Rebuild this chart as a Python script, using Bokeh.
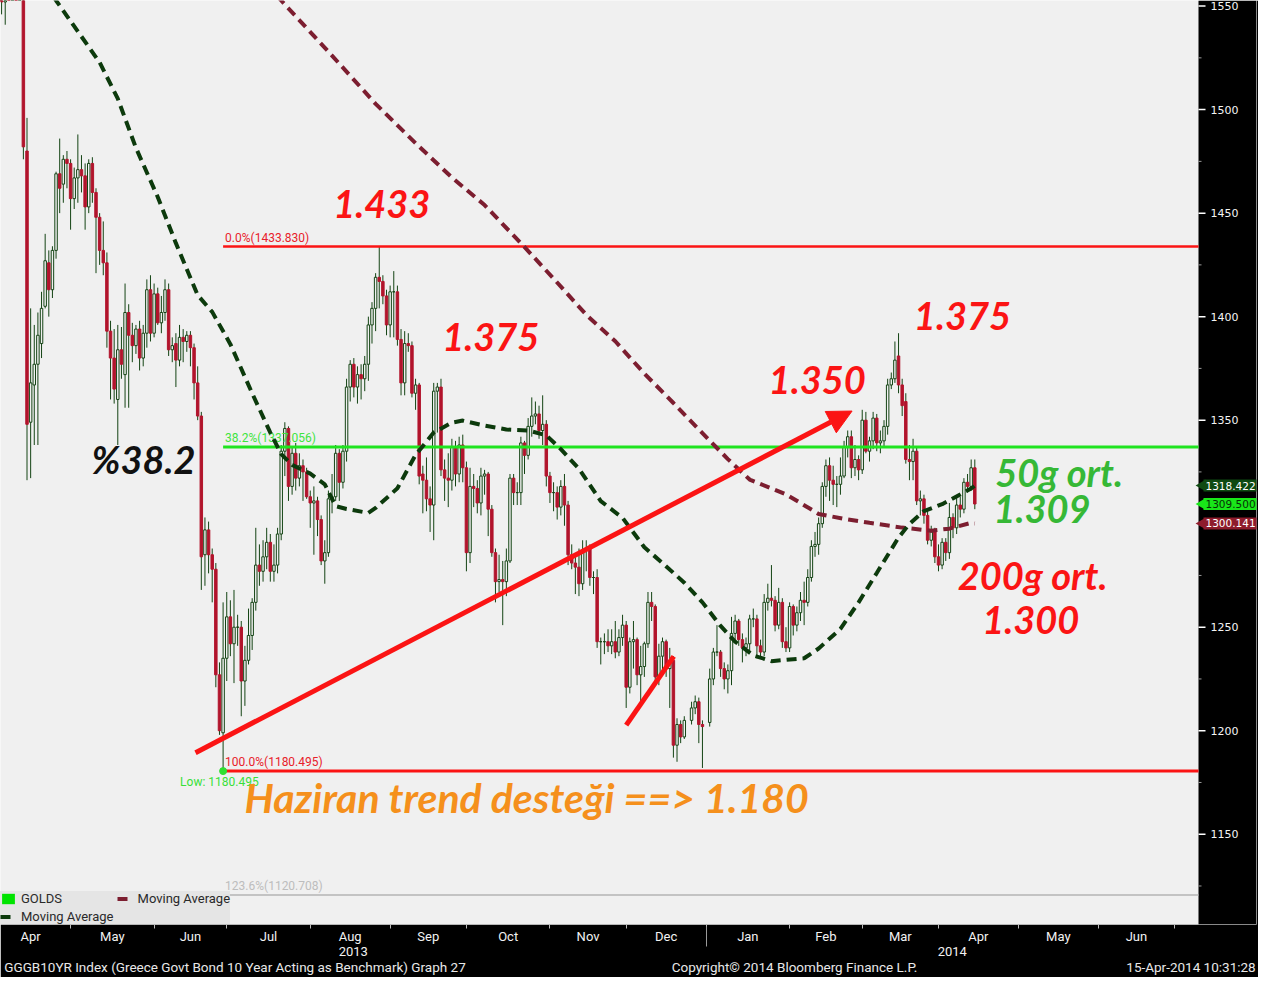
import numpy as np
import pandas as pd
from bokeh.plotting import figure
from bokeh.models import (ColumnDataSource, LinearAxis, FixedTicker, Range1d, Label, BoxAnnotation,
                          Legend, LegendItem, Arrow, NormalHead)
from bokeh.core.properties import value
from bokeh.embed import file_html
from bokeh.resources import INLINE

# ---------------- data (GOLDS daily OHLC) ----------------
START, END = "2013-04-01", "2014-04-15"
HOLIDAYS = ["2013-12-25", "2014-01-01"]

opens = [
    1596,1598,1576,1553,1552,1581,1574,1585,1558,1564,1480,1349,1367,1377,1387,1405,1426,1413,1432,1469,1464,1476,
    1474,1457,1467,1471,1468,1453,1474,1460,1448,1432,1426,1393,1380,1360,1384,1372,1402,1391,1386,1394,1380,1392,1413,
    1392,1411,1397,1402,1413,1384,1387,1379,1390,1388,1391,1385,1368,1352,1285,1297,1285,1278,1227,1199,
    1235,1255,1242,1250,1250,1224,1234,1246,1262,1280,1277,1284,1291,1277,1280,1295,1335,1346,1318,1334,1322,1328,1325,
    1313,1310,1311,1302,1282,1286,1312,1313,1334,1320,1335,1366,1377,1366,1372,1370,1377,1396,1404,1419,1417,1410,
    1396,1412,1412,1389,1368,1387,1386,1363,1367,1324,1321,1312,1309,1364,1366,1326,1322,1321,1337,1324,1338,
    1327,1286,1318,1317,1310,1323,1324,1307,1286,1272,1273,1272,1282,1322,1315,1315,1339,1333,1347,1352,1353,1345,1348,
    1323,1315,1315,1308,1318,1309,1285,1281,1279,1271,1287,1288,1274,1274,1243,1243,1243,1241,1243,1238,1245,
    1251,1221,1243,1244,1227,1231,1242,1262,1260,1226,1236,1243,1230,1234,1193,1203,1197,1205,1211,1214,1203,
    1204,1225,1238,1238,1230,1225,1229,1247,1253,1244,1240,1242,1254,1254,1241,1238,1262,1264,1263,1251,1262,1243,
    1240,1260,1251,1257,1263,1262,1274,1289,1290,1300,1318,1328,1321,1319,1319,1323,1337,1342,1327,1331,
    1326,1350,1335,1340,1351,1339,1340,1347,1367,1370,1381,1367,1359,1331,1330,1335,1311,1312,1304,1292,1296,
    1284,1280,1291,1286,1303,1298,1309,1307,1320,1318,1327,
]
highs = [
    1605,1604,1582,1562,1588,1584,1587,1591,1568,1566,1496,1404,1396,1402,1412,1440,1432,1434,1470,1486,1478,1480,
    1476,1472,1488,1478,1474,1476,1477,1462,1450,1446,1431,1398,1394,1396,1395,1416,1406,1397,1396,1398,1396,1418,1420,
    1416,1414,1410,1418,1416,1390,1392,1396,1394,1393,1393,1387,1376,1354,1303,1301,1288,1281,1233,1262,
    1267,1263,1268,1256,1253,1241,1259,1264,1298,1290,1292,1298,1295,1290,1298,1338,1349,1347,1337,1339,1334,1331,1327,
    1316,1318,1313,1304,1292,1316,1324,1338,1336,1338,1370,1379,1380,1376,1377,1381,1400,1407,1421,1433.83,1420,1413,
    1415,1422,1415,1394,1393,1392,1388,1370,1368,1328,1332,1318,1368,1368,1370,1331,1334,1341,1340,1342,1343,
    1330,1327,1324,1321,1327,1326,1325,1309,1288,1285,1282,1288,1324,1324,1320,1342,1340,1351,1361,1359,1357,1362,1350,
    1325,1320,1318,1321,1324,1311,1290,1284,1288,1292,1292,1290,1277,1278,1245,1247,1249,1249,1253,1249,1256,
    1253,1245,1253,1245,1241,1243,1267,1267,1261,1242,1245,1244,1240,1236,1206,1205,1207,1214,1217,1216,1205,
    1230,1240,1251,1239,1233,1232,1255,1256,1254,1247,1245,1256,1259,1256,1244,1266,1271,1280,1265,1269,1264,1250,
    1262,1261,1260,1267,1272,1278,1292,1296,1303,1320,1331,1332,1328,1323,1332,1340,1345,1345,1338,1333,
    1355,1354,1342,1354,1353,1345,1350,1370,1373,1388,1392,1370,1363,1338,1341,1337,1316,1314,1307,1299,1298,
    1290,1293,1293,1310,1305,1313,1313,1322,1324,1331,1331,
]
lows = [
    1590,1573,1548,1546,1541,1568,1570,1555,1554,1476,1321,1322,1338,1338,1380,1404,1400,1409,1428,1450,1455,1462,
    1442,1452,1455,1460,1442,1450,1455,1421,1425,1420,1385,1360,1358,1338,1370,1356,1356,1378,1382,1374,1376,1385,1388,
    1390,1396,1392,1398,1381,1378,1366,1376,1378,1383,1376,1360,1350,1268,1270,1276,1262,1221,1198,1180.495,
    1224,1236,1223,1241,1207,1212,1232,1239,1258,1270,1272,1278,1272,1272,1276,1292,1323,1311,1314,1316,1318,1311,1312,
    1298,1285,1294,1280,1271,1284,1305,1311,1311,1317,1330,1359,1361,1358,1360,1364,1369,1387,1393,1404,1406,1391,
    1390,1390,1386,1362,1362,1383,1361,1355,1319,1305,1306,1296,1292,1344,1323,1311,1308,1316,1318,1320,1320,
    1277,1281,1308,1305,1304,1314,1294,1284,1262,1267,1251,1265,1281,1309,1309,1309,1324,1331,1342,1348,1341,1338,1318,
    1310,1306,1302,1304,1299,1280,1278,1266,1265,1268,1277,1270,1266,1240,1232,1237,1238,1237,1235,1236,1241,
    1211,1218,1230,1222,1212,1226,1240,1253,1222,1222,1229,1226,1211,1187,1185,1194,1196,1203,1208,1194,1182,
    1202,1222,1236,1226,1220,1218,1222,1244,1241,1233,1236,1238,1250,1235,1235,1236,1258,1260,1248,1249,1240,1238,
    1238,1246,1248,1253,1251,1260,1272,1284,1285,1298,1313,1311,1309,1308,1314,1322,1332,1322,1323,1321,
    1324,1334,1330,1336,1335,1334,1337,1343,1365,1368,1363,1352,1329,1321,1321,1309,1304,1300,1290,1289,1281,
    1277,1278,1282,1283,1293,1295,1303,1305,1315,1316,1307,
]
closes = [
    1598,1576,1553,1552,1581,1574,1585,1558,1564,1482,1348,1368,1377,1391,1404,1427,1413,1432,1469,1462,1476,1474,
    1457,1467,1471,1468,1453,1474,1460,1448,1432,1426,1393,1380,1365,1384,1377,1402,1391,1386,1394,1380,1392,1413,1392,
    1411,1397,1402,1413,1384,1386,1379,1390,1388,1391,1385,1368,1352,1284,1297,1285,1278,1227,1200,1235,
    1255,1242,1250,1250,1224,1234,1246,1262,1280,1277,1284,1291,1277,1280,1295,1335,1346,1318,1334,1322,1328,1325,1313,
    1310,1311,1302,1282,1286,1312,1313,1334,1320,1335,1366,1377,1366,1372,1370,1377,1396,1404,1419,1417,1410,1396,
    1412,1412,1389,1368,1387,1386,1363,1367,1323,1321,1312,1309,1364,1366,1326,1322,1321,1337,1324,1338,1327,
    1286,1318,1317,1310,1323,1324,1307,1286,1272,1273,1272,1282,1322,1315,1315,1339,1333,1347,1352,1353,1345,1348,1323,
    1315,1315,1308,1318,1309,1285,1281,1279,1271,1287,1288,1274,1274,1243,1243,1243,1241,1243,1238,1245,1251,
    1221,1243,1244,1227,1231,1242,1262,1260,1226,1236,1243,1230,1234,1193,1203,1197,1205,1211,1214,1203,1202,
    1225,1238,1238,1230,1225,1229,1247,1253,1244,1240,1242,1254,1254,1241,1238,1262,1264,1263,1251,1262,1243,1240,
    1260,1251,1257,1263,1262,1274,1289,1290,1300,1318,1328,1321,1319,1319,1323,1337,1342,1327,1331,1326,
    1350,1335,1340,1351,1339,1340,1347,1367,1370,1379,1367,1357,1331,1330,1335,1311,1312,1304,1292,1296,1284,
    1280,1291,1286,1303,1298,1309,1307,1320,1318,1327,1309.5,
]

# 50-day moving average (dark green dashed)
ma50_dates = ["2013-04-15","2013-04-25","2013-05-13","2013-05-20","2013-05-27","2013-06-04","2013-06-11",
              "2013-06-19","2013-06-25","2013-07-02","2013-07-10","2013-07-17","2013-07-22","2013-07-25",
              "2013-08-01","2013-08-07","2013-08-12","2013-08-15","2013-08-23","2013-08-27","2013-09-04",
              "2013-09-11","2013-09-18","2013-09-25","2013-09-30","2013-10-08","2013-10-16","2013-10-24",
              "2013-10-31","2013-11-06","2013-11-13","2013-11-21","2013-11-29","2013-12-09","2013-12-16",
              "2013-12-24","2013-12-31","2014-01-07","2014-01-13","2014-01-20","2014-01-27","2014-02-07",
              "2014-02-13","2014-02-21","2014-02-28","2014-03-07","2014-03-17","2014-03-20","2014-03-26",
              "2014-04-02","2014-04-14","2014-04-15"]
ma50_vals = [1573.5,1552.7,1522.8,1505.3,1481.5,1457.8,1435.5,1410.4,1402.3,1386.7,1363.0,1344.0,1333.6,1328.4,
             1324.2,1319.0,1308.5,1307.1,1305.2,1307.6,1317.1,1333.2,1344.0,1348.8,1349.8,1347.4,1345.5,1345.0,
             1342.7,1336.0,1326.5,1310.9,1302.8,1288.6,1281.0,1271.5,1262.0,1250.6,1243.0,1236.4,1233.6,1235.0,
             1239.7,1249.2,1262.0,1276.2,1293.3,1299.9,1306.1,1309.4,1317.0,1318.4]

# 200-day moving average (dark red dashed)
ma200_dates = ["2013-07-11","2013-07-22","2013-08-08","2013-08-27","2013-09-11","2013-09-25","2013-10-08",
               "2013-10-22","2013-11-04","2013-11-15","2013-11-27","2013-12-09","2013-12-19","2013-12-30",
               "2014-01-09","2014-01-17","2014-01-31","2014-02-13","2014-02-24","2014-03-05","2014-03-18",
               "2014-03-28","2014-04-04","2014-04-14","2014-04-15"]
ma200_vals = [1566.4,1552.7,1528.0,1502.8,1483.8,1467.2,1453.9,1435.5,1418.4,1400.9,1388.1,1372.5,1358.3,
              1345.5,1331.2,1321.3,1314.2,1304.7,1302.3,1300.4,1298.1,1296.6,1297.6,1300.4,1300.1]

# Fibonacci retracement levels (from the June low)
fib_start = "2013-06-28"
fib_levels = [1433.830, 1337.056, 1180.495, 1120.708]
fib_texts = ["0.0%(1433.830)", "38.2%(1337.056)", "100.0%(1180.495)", "123.6%(1120.708)"]
low_value = 1180.495

# last values shown on the price axis
tag_values = [1318.422, 1309.500, 1300.141]
tag_texts = ["1318.422", "1309.500", "1300.141"]

y_ticks = [1150, 1200, 1250, 1300, 1350, 1400, 1450, 1500, 1550]
y_minor = [1125, 1175, 1225, 1275, 1325, 1375, 1425, 1475, 1525]
month_labels = ["Apr", "May", "Jun", "Jul", "Aug", "Sep", "Oct", "Nov", "Dec",
                "Jan", "Feb", "Mar", "Apr", "May", "Jun"]
month_starts = ["2013-04-01", "2013-05-01", "2013-06-01", "2013-07-01", "2013-08-01", "2013-09-01",
                "2013-10-01", "2013-11-01", "2013-12-01", "2014-01-01", "2014-02-01", "2014-03-01",
                "2014-04-01", "2014-05-01", "2014-06-01", "2014-07-01"]
year_labels = ["2013", "2014"]
footer_texts = ["GGGB10YR Index (Greece Govt Bond 10 Year Acting as Benchmark) Graph 27",
                "Copyright\u00a9 2014 Bloomberg Finance L.P.",
                "15-Apr-2014 10:31:28"]

# hand-drawn annotations (trend arrow, small trend line, texts)
arrow_start = (46.4, 1189.4)
arrow_end = (227.2, 1354.4)
small_line_x = [165.0, 178.1]
small_line_y = [1202.7, 1235.9]
note_texts = ["1.433", "1.375", "1.350", "1.375", "200g ort.", "1.300"]
note_x = [97.7, 127.7, 217.6, 257.6, 276.9, 276.4]
note_y = [1454.3, 1390.2, 1369.6, 1400.2, 1275.2, 1253.7]

# ---------------- helpers ----------------
BASE = np.datetime64("2013-04-15")


def bidx(ds):
    return np.busday_count(BASE, np.array(ds, dtype="datetime64[D]")).astype(float)


dates = [d for d in pd.bdate_range(START, END).strftime("%Y-%m-%d") if d not in HOLIDAYS]
n = min(len(dates), len(opens), len(highs), len(lows), len(closes))

x = bidx(dates[:n])
o = np.array(opens[:n], float)
h = np.array(highs[:n], float)
l = np.array(lows[:n], float)
c = np.array(closes[:n], float)
up = c >= o

W, H = 1258, 977
BB = 52
BR = 2                     # tiny border: the price column lives inside the frame
COL = 58                   # width (px) of the black price column
PLOT_W = W - BR - COL      # width of the light plotting area
X0, X1 = -7.3, 322.6       # visible trading-day span of the light area
ppx = PLOT_W / (X1 - X0)
XE = X1 + COL / ppx        # frame end (includes the price column)
Y0, Y1 = 1106.4, 1552.7
ppy = (H - BB) / (Y1 - Y0)

RED = "#fb1414"
GREEN_LINE = "#1fe41f"
UPC = "#144414"
DNC = "#b2142c"
MA50C = "#0c3a0c"
MA200C = "#7c1e30"
BG = "#f0f0f0"

p = figure(width=W, height=H, output_backend="svg", toolbar_location=None,
           x_range=Range1d(X0, XE), y_range=Range1d(Y0, Y1),
           x_axis_location=None, y_axis_location=None,
           min_border_left=0, min_border_top=0, min_border_right=BR, min_border_bottom=BB,
           background_fill_color=BG, border_fill_color="black", outline_line_color=None)
p.grid.visible = False

# black price column
p.add_layout(BoxAnnotation(left=X1, fill_color="black", fill_alpha=1.0, line_color=None, level="underlay"))

# candles
p.segment(x0=x, y0=l, x1=x, y1=h, line_color=UPC, line_width=1)
src_up = ColumnDataSource(dict(x=x[up], top=np.maximum(o, c)[up], bottom=np.minimum(o, c)[up]))
src_dn = ColumnDataSource(dict(x=x[~up], top=np.maximum(o, c)[~up], bottom=np.minimum(o, c)[~up]))
p.vbar(x="x", top="top", bottom="bottom", width=0.68, source=src_up,
       fill_color=BG, line_color=UPC, line_width=1)
p.vbar(x="x", top="top", bottom="bottom", width=0.68, source=src_dn,
       fill_color=DNC, line_color=DNC, line_width=1)

# fibonacci lines
fx = float(bidx([fib_start])[0])
fib_colors = [RED, GREEN_LINE, RED, "#b4b4b4"]
fib_widths = [2.5, 3, 3, 1.5]
fib_txt_colors = ["#e8202a", "#3ee43e", "#e8202a", "#bdbdbd"]
for lv, col, lw in zip(fib_levels, fib_colors, fib_widths):
    p.segment(x0=[fx], y0=[lv], x1=[X1], y1=[lv], line_color=col, line_width=lw)
p.text(x=[fx] * 4, y=fib_levels, text=fib_texts, text_color=fib_txt_colors,
       text_font=value("Roboto"), text_font_size="12px", text_baseline="bottom",
       text_align="left", x_offset=2, y_offset=-2)

# low marker
p.scatter(x=[fx], y=[low_value], size=7, fill_color="#30e030", line_color="#30e030")
p.text(x=[fx], y=[low_value], text=["Low: " + f"{low_value:.3f}"], text_color="#38e038",
       text_font=value("Roboto"), text_font_size="12px", text_baseline="top",
       text_align="left", x_offset=-43, y_offset=4)

# moving averages
r200 = p.line(x=bidx(ma200_dates), y=ma200_vals, line_color=MA200C, line_width=4, line_dash="10 6")
r50 = p.line(x=bidx(ma50_dates), y=ma50_vals, line_color=MA50C, line_width=4, line_dash="10 6")

# hand-drawn trend arrow and small line
p.add_layout(Arrow(end=NormalHead(size=24, fill_color=RED, line_color=RED),
                   x_start=arrow_start[0], y_start=arrow_start[1],
                   x_end=arrow_end[0], y_end=arrow_end[1],
                   line_color=RED, line_width=5))
p.line(x=small_line_x, y=small_line_y, line_color=RED, line_width=5)

# big annotation texts
FONT = value("Lato")
p.text(x=note_x, y=note_y, text=note_texts, text_color=RED, text_font=FONT,
       text_font_size="38px", text_font_style="bold italic",
       text_align="center", text_baseline="middle")
p.text(x=[32.1], y=[1331.2], text=["%38.2"], text_color="#111111", text_font=FONT,
       text_font_size="38px", text_font_style="bold italic",
       text_align="center", text_baseline="middle")
p.text(x=[284.2, 279.5], y=[1324.8, 1307.2], text=["50g ort.", "1.309"], text_color="#36b836",
       text_font=FONT, text_font_size="38px", text_font_style="bold italic",
       text_align="center", text_baseline="middle")
p.text(x=[137.6], y=[1167.6], text=["Haziran trend desteği ==> 1.180"], text_color="#f5901c",
       text_font=FONT, text_font_size="41px", text_font_style="bold italic",
       text_align="center", text_baseline="middle")

# legend
dummy = p.quad(left=[-100], right=[-99], top=[1000], bottom=[999], fill_color="#00e400", line_color=None)
legend = Legend(items=[LegendItem(label="GOLDS", renderers=[dummy]),
                       LegendItem(label="Moving Average", renderers=[r200]),
                       LegendItem(label="Moving Average", renderers=[r50])],
                location="bottom_left", orientation="horizontal", ncols=2,
                background_fill_color="#e4e4e4", background_fill_alpha=0.92,
                border_line_color=None, margin=0, padding=7, spacing=3,
                label_text_font="Roboto", label_text_font_size="13px", label_text_color="#2a2a2a",
                glyph_width=16, glyph_height=13, label_height=15, label_standoff=5)
p.add_layout(legend)

# price axis: tick marks at the column's edge, labels drawn by a real axis pulled into the column
p.segment(x0=[X1] * len(y_ticks), y0=y_ticks, x1=[X1 + 7 / ppx] * len(y_ticks), y1=y_ticks,
          line_color="white", line_width=1.5)
p.segment(x0=[X1] * len(y_minor), y0=y_minor, x1=[X1 + 3 / ppx] * len(y_minor), y1=y_minor,
          line_color="#9a9a9a", line_width=1)
yax = LinearAxis(ticker=FixedTicker(ticks=y_ticks, minor_ticks=[]),
                 axis_line_color=None,
                 major_tick_line_color=None, major_tick_out=0, major_tick_in=0,
                 minor_tick_line_color=None, minor_tick_out=0, minor_tick_in=0,
                 major_label_text_color="#f4f4f4", major_label_text_font="DejaVu Sans",
                 major_label_text_font_size="11px", major_label_standoff=-(COL - 12))
p.add_layout(yax, "right")

# month axis
ms = bidx(month_starts)
mids = [round(float(v), 3) for v in (ms[:-1] + ms[1:]) / 2.0]
mx = LinearAxis(ticker=FixedTicker(ticks=mids, minor_ticks=list(ms)),
                major_label_overrides={m: lab for m, lab in zip(mids, month_labels)},
                axis_line_color=None, major_tick_line_color=None, major_tick_out=0, major_tick_in=0,
                minor_tick_line_color="#bbbbbb", minor_tick_out=4, minor_tick_in=0,
                major_label_text_color="#f2f2f2", major_label_text_font="Roboto",
                major_label_text_font_size="13px", major_label_standoff=0)
p.add_layout(mx, "below")

# year axis
jan1 = float(bidx(["2014-01-01"])[0])
yc = [round((X0 + jan1) / 2.0, 3), round((jan1 + X1) / 2.0, 3)]
yx = LinearAxis(ticker=FixedTicker(ticks=yc, minor_ticks=[jan1]),
                major_label_overrides={yc[0]: year_labels[0], yc[1]: year_labels[1]},
                axis_line_color=None, major_tick_line_color=None, major_tick_out=0, major_tick_in=0,
                minor_tick_line_color="#9a9a9a", minor_tick_in=20, minor_tick_out=0,
                major_label_text_color="#f2f2f2", major_label_text_font="Roboto",
                major_label_text_font_size="13px", major_label_standoff=0)
p.add_layout(yx, "below")

# footer line (source, copyright, timestamp)
foot_px = [4 + 461 / 2.0, 794, W - 3 - 129 / 2.0]
foot_ticks = [round(X0 + v / ppx, 3) for v in foot_px]
fax = LinearAxis(ticker=FixedTicker(ticks=foot_ticks, minor_ticks=[]),
                 major_label_overrides={t: s for t, s in zip(foot_ticks, footer_texts)},
                 axis_line_color=None, major_tick_line_color=None, major_tick_out=0, major_tick_in=0,
                 minor_tick_line_color=None, minor_tick_out=0, minor_tick_in=0,
                 major_label_text_color="#e8e8e8", major_label_text_font="Roboto",
                 major_label_text_font_size="13.5px", major_label_standoff=0)
p.add_layout(fax, "below")

# price tags in the column
tag_bg = ["#0f4a12", "#19e619", "#8e1c2c"]
tag_fg = ["#ffffff", "#073007", "#ffffff"]
p.scatter(x=[X1 + 4 / ppx] * 3, y=tag_values, marker="triangle", angle=np.pi / 2, size=12,
          fill_color=tag_bg, line_color=None)
for v, t, bg, fg in zip(tag_values, tag_texts, tag_bg, tag_fg):
    kw = dict(x=X1, y=v, x_offset=5, text=t, text_baseline="middle", text_align="left",
              text_font="DejaVu Sans", text_font_size="10.5px", text_color=fg,
              background_fill_color=bg, background_fill_alpha=1.0)
    try:
        lab = Label(padding=2, **kw)
    except Exception:
        lab = Label(**kw)
    p.add_layout(lab)

open("out.html", "w").write(file_html(p, INLINE))
